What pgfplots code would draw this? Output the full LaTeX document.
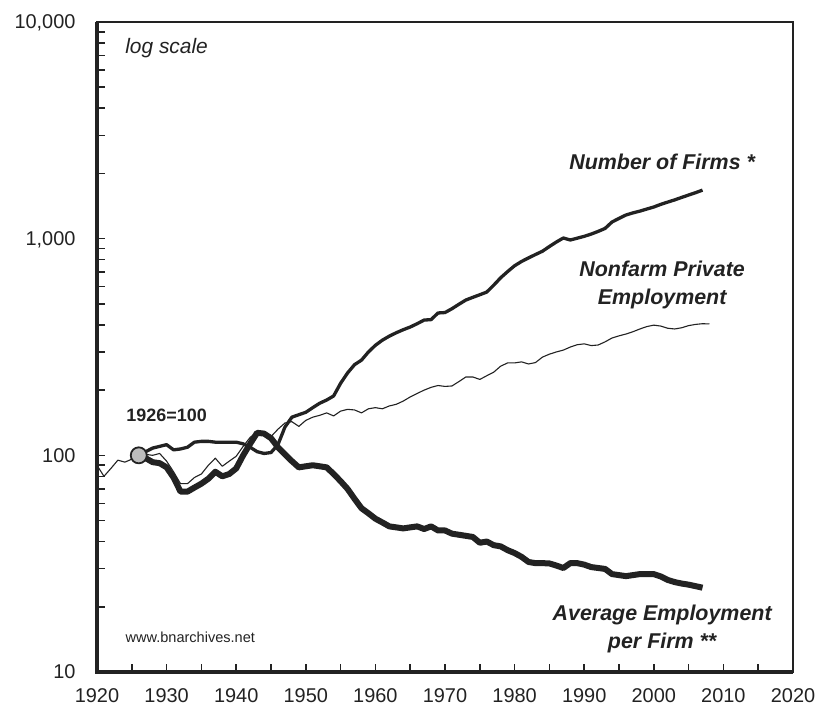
\documentclass[border=0pt]{standalone}
\usepackage{fontspec}
\setmainfont{Liberation Sans}
\usepackage{pgfplots}
\usepackage{pgfplotstable}
\pgfplotsset{compat=1.18}
\definecolor{ink}{HTML}{222222}
\definecolor{dotgray}{HTML}{BDBDBD}

% Nonfarm private employment, 1926=100
\pgfplotstableread{
year emp
1920 90
1921 80
1922 87
1923 95
1924 93
1925 96
1926 100
1927 101
1928 100
1929 102
1930 94
1931 84
1932 74
1933 74
1934 79
1935 82
1936 90
1937 97
1938 89
1939 94
1940 99
1941 110
1942 121
1943 128
1944 126
1945 122
1946 132
1947 141
1948 143
1949 136
1950 145
1951 150
1952 153
1953 157
1954 152
1955 160
1956 163
1957 162
1958 157
1959 164
1960 166
1961 164
1962 169
1963 172
1964 178
1965 186
1966 193
1967 200
1968 206
1969 210
1970 208
1971 209
1972 219
1973 230
1974 230
1975 224
1976 233
1977 242
1978 258
1979 267
1980 267
1981 270
1982 264
1983 268
1984 284
1985 293
1986 300
1987 306
1988 316
1989 324
1990 327
1991 321
1992 323
1993 334
1994 348
1995 356
1996 363
1997 372
1998 383
1999 393
2000 399
2001 395
2002 386
2003 383
2004 388
2005 397
2006 402
2007 405
2008 404
}\emp

% Number of firms, 1926=100
\pgfplotstableread{
year firms
1926 100
1927 104
1928 108
1929 110
1930 112
1931 106
1932 107
1933 109
1934 115
1935 116
1936 116
1937 115
1938 115
1939 115
1940 115
1941 113
1942 109
1943 104
1944 102
1945 103
1946 112
1947 135
1948 150
1949 154
1950 158
1951 166
1952 174
1953 180
1954 188
1955 215
1956 240
1957 262
1958 275
1959 300
1960 322
1961 340
1962 355
1963 368
1964 380
1965 391
1966 405
1967 421
1968 423
1969 454
1970 456
1971 475
1972 498
1973 521
1974 536
1975 551
1976 567
1977 610
1978 660
1979 705
1980 750
1981 785
1982 815
1983 845
1984 875
1985 920
1986 965
1987 1007
1988 986
1989 1005
1990 1025
1991 1050
1992 1080
1993 1115
1994 1194
1995 1240
1996 1286
1997 1315
1998 1340
1999 1370
2000 1400
2001 1440
2002 1475
2003 1510
2004 1550
2005 1590
2006 1630
2007 1675
}\firms

% Average employment per firm, 1926=100
\pgfplotstableread{
year avg
1926 100
1927 97
1928 93
1929 92
1930 88
1931 79
1932 68
1933 68
1934 71
1935 74
1936 78
1937 84
1938 80
1939 82
1940 87
1941 100
1942 113
1943 127
1944 126
1945 120
1946 109
1947 101
1948 94
1949 88
1950 89
1951 90
1952 89
1953 88
1954 82
1955 76
1956 70
1957 63
1958 57
1959 54
1960 51
1961 49
1962 47
1963 46.5
1964 46
1965 46.5
1966 47
1967 45.7
1968 47
1969 45
1970 45
1971 43.5
1972 43
1973 42.5
1974 42
1975 39.5
1976 40
1977 38.5
1978 38
1979 36.5
1980 35.4
1981 34
1982 32.2
1983 31.8
1984 31.8
1985 31.7
1986 31
1987 30.2
1988 31.8
1989 31.8
1990 31.3
1991 30.5
1992 30.2
1993 29.9
1994 28.3
1995 28
1996 27.7
1997 28
1998 28.3
1999 28.3
2000 28.3
2001 27.6
2002 26.6
2003 26
2004 25.6
2005 25.3
2006 24.9
2007 24.5
}\avg

\begin{document}
\begin{tikzpicture}
\path[use as bounding box] (0,0) rectangle (815bp,713bp);
\begin{axis}[
    at={(97bp,41bp)}, anchor=south west,
    scale only axis, width=696bp, height=650bp,
    xmin=1920, xmax=2020,
    ymode=log, ymin=10, ymax=10000,
    xtick={1920,1930,...,2020},
    xticklabels={1920,1930,1940,1950,1960,1970,1980,1990,2000,2010,2020},
    minor x tick num=1,
    ytick={10,100,1000,10000},
    yticklabels={10,100,{1,000},{10,000}},
    minor ytick={20,30,40,50,60,70,80,90,200,300,400,500,600,700,800,900,2000,3000,4000,5000,6000,7000,8000,9000},
    tick align=inside, xtick pos=bottom, ytick pos=left,
    major tick length=8bp, minor tick length=8bp,
    tick style={ink, line width=1.5bp},
    axis line style={ink, line width=2bp},
    ticklabel style={font=\fontsize{20}{24}\selectfont, text=ink},
    xticklabel style={yshift=-13bp},
    yticklabel style={xshift=-18bp, text depth=0pt},
    clip=false,
]
\addplot[ink, line width=1.1bp, line join=round] table[x=year, y=emp] {\emp};
\addplot[ink, line width=3.3bp, line join=round] table[x=year, y=firms] {\firms};
\addplot[ink, line width=6bp, line join=round] table[x=year, y=avg] {\avg};
\addplot[only marks, mark=*, mark size=8bp,
    mark options={fill=dotgray, draw=ink, line width=1.8bp}] coordinates {(1926,100)};

\draw[ink, line width=3.5bp] (rel axis cs:0,1) -- (rel axis cs:0,0) -- (rel axis cs:1,0);

\node[text=ink, font=\fontsize{21}{26}\selectfont\itshape] at (axis cs:1930,7590) {log scale};
\node[text=ink, font=\fontsize{18}{22}\selectfont\bfseries] at (axis cs:1930,153) {1926=100};
\node[text=ink, font=\fontsize{14.6}{18}\selectfont] at (axis cs:1933.4,14.4) {www.bnarchives.net};
\node[text=ink, font=\fontsize{21.5}{28}\selectfont\bfseries\itshape] at (axis cs:2001.2,2254) {Number of Firms *};
\node[text=ink, align=center, font=\fontsize{21.5}{28}\selectfont\bfseries\itshape] at (axis cs:2001.2,611) {Nonfarm Private\\Employment};
\node[text=ink, align=center, font=\fontsize{21.5}{28}\selectfont\bfseries\itshape] at (axis cs:2001.2,15.8) {Average Employment\\per Firm **};
\end{axis}
\end{tikzpicture}
\end{document}
